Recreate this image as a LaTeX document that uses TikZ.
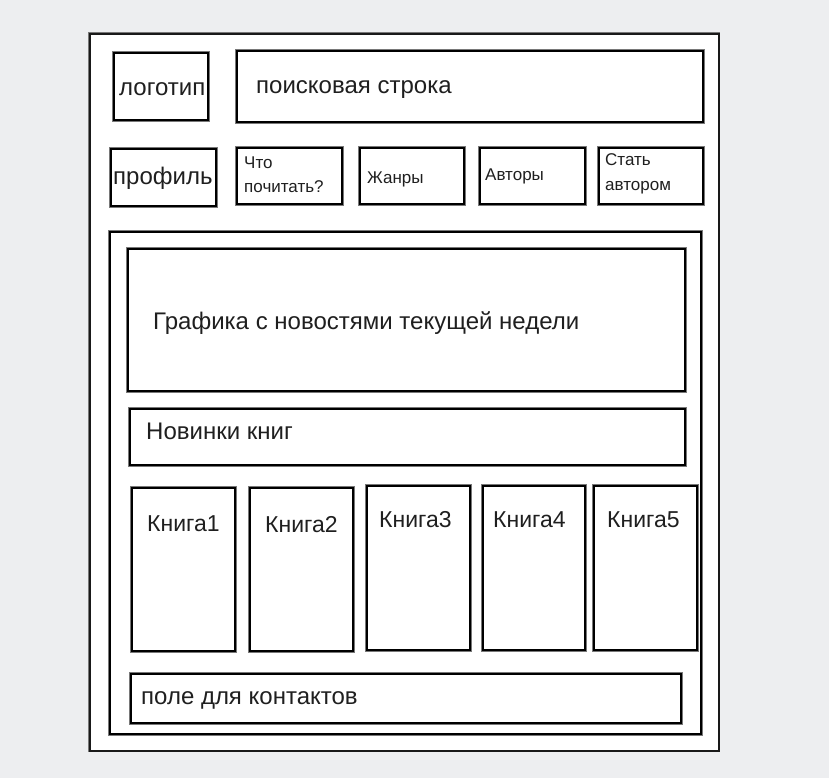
\documentclass[tikz,border=0pt]{standalone}
\usepackage{fontspec}
\setmainfont{Liberation Sans}
\definecolor{bgc}{RGB}{237,238,240}
\definecolor{shade}{RGB}{120,120,120}
\newcommand\wbox[5]{\node[box, minimum width={(#4-#2-1)*1pt}, minimum height={(#5-#3-1)*1pt}] (#1) at (#2,#3) {};}
\begin{document}
\begin{tikzpicture}[x=1pt,y=-1pt,
  box/.style={draw=black, line width=2.4pt, fill=white, inner sep=0pt, anchor=north west,
    preaction={draw=shade, line width=3.6pt}},
  pagebox/.style={draw=black!90, line width=1.6pt, fill=white, inner sep=0pt, anchor=north west,
    preaction={draw=shade, line width=2.8pt}},
  lbl/.style={anchor=base west, inner sep=0pt, text=black!88, font=\fontsize{24}{28}\selectfont},
  bk/.style={anchor=base west, inner sep=0pt, text=black!88, font=\fontsize{23}{27}\selectfont},
  small/.style={anchor=base west, inner sep=0pt, text=black!88, font=\fontsize{17}{20}\selectfont}]
\fill[bgc] (0,0) rectangle (829,778);
\useasboundingbox (0,0) rectangle (829,778);
% page
\node[pagebox, minimum width=629pt, minimum height=717pt] (page) at (89,33) {};
% header
\wbox{logo}{113}{52}{208}{120}
\wbox{search}{236}{50}{703}{122}
\wbox{profile}{110}{148}{216}{206}
\wbox{what}{236}{147}{342}{204}
\wbox{genres}{359}{147}{464}{204}
\wbox{authors}{479}{147}{585}{204}
\wbox{become}{598}{147}{703}{204}
% main area
\wbox{main}{109}{231}{701}{734}
\wbox{news}{127}{248}{685}{391}
\wbox{newbooks}{129}{408}{685}{465}
\wbox{b1}{131}{487}{235}{651}
\wbox{b2}{249}{487}{353}{651}
\wbox{b3}{366}{485}{470}{650}
\wbox{b4}{482}{485}{585}{650}
\wbox{b5}{593}{485}{697}{650}
\wbox{contacts}{130}{673}{681}{723}
% labels
\node[lbl] (tlogo) at (119,96) {логотип};
\node[lbl] (tsearch) at (256,94) {поисковая строка};
\node[lbl] (tprofile) at (113,184) {профиль};
\node[small] (twhat1) at (244,168) {Что};
\node[small] (twhat2) at (244,193) {почитать?};
\node[small] (tgenres) at (367,183) {Жанры};
\node[small] (tauthors) at (485,181) {Авторы};
\node[small] (tbecome1) at (605,166) {Стать};
\node[small] (tbecome2) at (605,190) {автором};
\node[lbl] (tnews) at (153,329) {Графика с новостями текущей недели};
\node[lbl] (tnewbooks) at (146,439) {Новинки книг};
\node[bk] (tb1) at (147,531) {Книга1};
\node[bk] (tb2) at (265,532) {Книга2};
\node[bk] (tb3) at (379,527) {Книга3};
\node[bk] (tb4) at (493,527) {Книга4};
\node[bk] (tb5) at (607,527) {Книга5};
\node[lbl] (tcontacts) at (141,704) {поле для контактов};
\end{tikzpicture}
\end{document}
